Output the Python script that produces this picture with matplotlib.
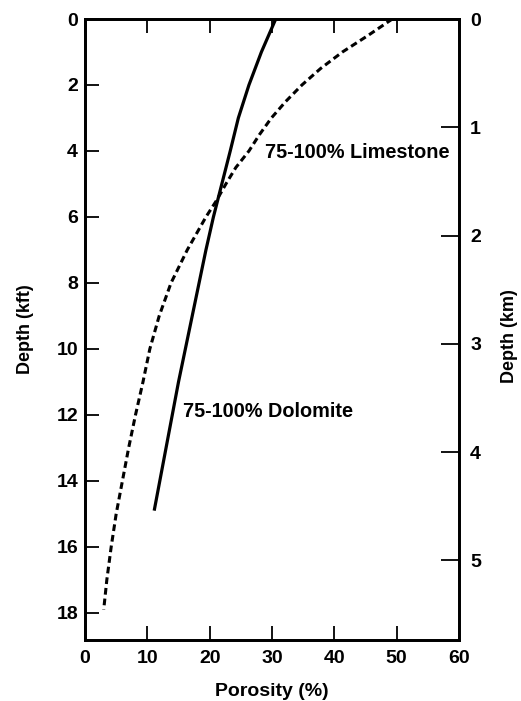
import matplotlib
matplotlib.use("Agg")
import matplotlib.pyplot as plt

# Data (depth in kft, porosity in %)
dolomite_depth_kft = [0, 1, 2, 3, 4, 5, 6, 7, 8, 9, 10, 11, 12, 13, 14, 14.9]
dolomite_porosity = [30.6, 28.3, 26.3, 24.6, 23.3, 21.95, 20.6, 19.4, 18.3, 17.2, 16.1, 15.0,
                     14.0, 13.0, 12.0, 11.1]

limestone_depth_kft = [0, 0.5, 1, 1.5, 2, 2.5, 3, 3.5, 4, 4.5, 5, 5.5, 6, 7, 8, 9, 10,
                       11, 12, 13, 14, 15, 16, 17, 17.9]
limestone_porosity = [49.3, 45.4, 41.3, 37.8, 34.8, 32.2, 29.9, 28.0, 26.3, 24.2, 22.6, 21.1,
                      19.4, 16.4, 13.8, 11.9, 10.4, 9.3, 8.1, 7.0, 6.0, 5.0, 4.2, 3.5, 3.0]

x_ticks = [0, 10, 20, 30, 40, 50, 60]
y_ticks_kft = [0, 2, 4, 6, 8, 10, 12, 14, 16, 18]
y_ticks_km = [0, 1, 2, 3, 4, 5]
KFT_PER_KM = 3.2808
DEPTH_MAX_KFT = 18.82

plt.rcParams['font.family'] = ['Liberation Sans', 'DejaVu Sans']
plt.rcParams['font.weight'] = 'bold'

fig = plt.figure(figsize=(5.21, 7.01), dpi=100)
ax = fig.add_axes([85/521, 1 - 640/701, (459-85)/521, (640-19)/701])

ax.plot(dolomite_porosity, dolomite_depth_kft, color='black', lw=2.3, solid_capstyle='butt')
ax.plot(limestone_porosity, limestone_depth_kft, color='black', lw=2.2, dashes=(2.2, 1.3))

ax.set_xlim(0, 60)
ax.set_ylim(DEPTH_MAX_KFT, 0)
ax.set_xticks(x_ticks)
ax.set_yticks(y_ticks_kft)
ax.tick_params(axis='x', direction='in', length=10, width=1.3, labelsize=14, pad=7, top=True, labeltop=False)
ax.tick_params(axis='y', direction='in', length=10, width=1.3, labelsize=14, pad=5, right=False)
for s in ax.spines.values():
    s.set_linewidth(2)

ax.set_xlabel('Porosity (%)', fontsize=14, fontweight='bold')
ax.set_ylabel('Depth (kft)', fontsize=13, fontweight='bold')
ax.xaxis.label.set_va('center')
ax.xaxis.set_label_coords(0.5, -0.0837)
ax.yaxis.label.set_va('center')
ax.yaxis.set_label_coords(-0.158, 0.5)
for lab in ax.get_xticklabels() + ax.get_yticklabels():
    lab.set_fontweight('bold')

ax2 = ax.twinx()
ax2.set_ylim(DEPTH_MAX_KFT / KFT_PER_KM, 0)
ax2.set_yticks(y_ticks_km)
ax2.tick_params(axis='y', direction='in', length=13, width=1.3, labelsize=14, pad=8)
ax2.set_ylabel('Depth (km)', fontsize=13, fontweight='bold')
ax2.yaxis.label.set_va('center')
ax2.yaxis.set_label_coords(1.136, 0.49)
for lab in ax2.get_yticklabels():
    lab.set_fontweight('bold')
for s in ax2.spines.values():
    s.set_linewidth(2)

ax.text(28.8, 4.05, '75-100% Limestone', fontsize=14.3, fontweight='bold', va='center', ha='left')
ax.text(15.8, 11.88, '75-100% Dolomite', fontsize=14.3, fontweight='bold', va='center', ha='left')

fig.savefig('out.png', dpi=100)
